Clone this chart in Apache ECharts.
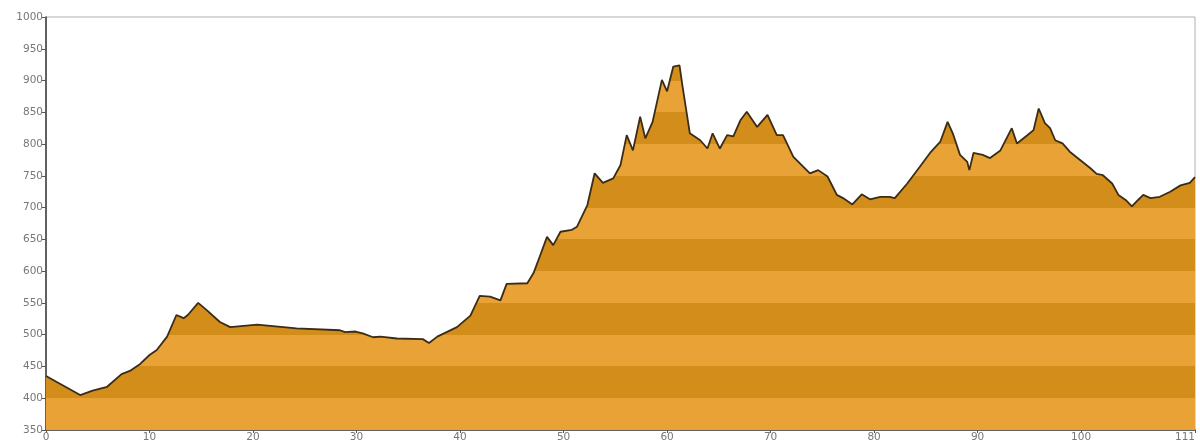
<!DOCTYPE html>
<html>
<head>
<meta charset="utf-8">
<script src="https://cdn.jsdelivr.net/npm/echarts@6/dist/echarts.min.js"></script>
<style>
html,body{margin:0;padding:0;background:#fff;}
#c{width:1200px;height:444px;}
</style>
</head>
<body>
<div id="c"></div>
<script>
// distance along route (km)
var distanceKm = [0, 3.3, 4.5, 5.9, 7.3, 8.1, 9.1, 10, 10.7, 11.7, 12.6, 13.3, 13.7, 14.7, 15.5, 16.8, 17.8, 20.4, 24.2, 28.4, 28.9, 29.9, 30.6, 31.6, 32.3, 33.9, 36.4, 37, 37.8, 39.7, 41, 41.9, 42.9, 43.9, 44.5, 46.5, 47.1, 47.7, 48.4, 49, 49.7, 50.8, 51.3, 52.3, 53, 53.8, 54.8, 55.5, 56.1, 56.7, 57.4, 57.9, 58.6, 59.5, 60, 60.6, 61.2, 61.5, 62.2, 63.2, 63.9, 64.4, 65.1, 65.8, 66.4, 67.1, 67.7, 68.7, 69.7, 70.6, 71.2, 72.2, 73, 73.8, 74.6, 75.5, 76.4, 77, 77.9, 78.8, 79.6, 80.6, 81.5, 82, 83.2, 84.4, 85.4, 86.4, 87.1, 87.6, 88.3, 89, 89.2, 89.6, 90.5, 91.2, 92.2, 93.3, 93.8, 94.8, 95.4, 95.9, 96.5, 97, 97.5, 98.2, 98.9, 99.9, 100.9, 101.5, 102.1, 103, 103.6, 104.3, 104.9, 105.5, 106, 106.7, 107.6, 108.6, 109.6, 110.5, 111];
// elevation (m)
var elevation = [435, 405, 412, 418, 438, 443, 454, 468, 476, 497, 531, 526, 531, 550, 539, 520, 512, 516, 510, 507, 504, 505, 502, 496, 497, 494, 493, 487, 497, 512, 530, 561, 560, 554, 580, 581, 597, 623, 654, 641, 662, 665, 670, 704, 754, 739, 746, 767, 814, 790, 843, 809, 835, 901, 883, 922, 924, 890, 817, 806, 793, 817, 793, 814, 812, 838, 851, 827, 846, 814, 814, 780, 767, 754, 759, 749, 720, 715, 705, 721, 713, 717, 717, 715, 738, 764, 786, 804, 835, 817, 783, 772, 759, 786, 783, 778, 790, 825, 801, 814, 822, 856, 833, 825, 806, 801, 788, 775, 762, 753, 751, 738, 720, 712, 702, 712, 720, 715, 717, 725, 735, 739, 748];
// axis tick labels
var xTickValues = [0, 10, 20, 30, 40, 50, 60, 70, 80, 90, 100, 111];
var yMin = 350, yMax = 1000, yStep = 50;

var lightBand = '#E9A236';
var darkBand = '#D38D1A';

var seriesData = distanceKm.map(function (d, i) { return [d, elevation[i]]; });

var pieces = [];
for (var v = yMin, k = 0; v < yMax; v += yStep, k++) {
  pieces.push({ gte: v, lt: v + yStep, color: (k % 2 === 0) ? lightBand : darkBand });
}

var chart = echarts.init(document.getElementById('c'), null, { renderer: 'canvas' });
chart.setOption({
  animation: false,
  backgroundColor: '#ffffff',
  grid: { left: 46, right: 5, top: 17, bottom: 14, show: true, borderColor: '#b0b0b0', borderWidth: 1, containLabel: false, outerBoundsMode: 'none' },
  visualMap: {
    show: false,
    type: 'piecewise',
    dimension: 1,
    seriesIndex: 0,
    pieces: pieces
  },
  xAxis: {
    type: 'value',
    min: 0,
    max: 111,
    axisLine: { show: true, onZero: false, lineStyle: { color: '#3a3a3a', width: 1.5 } },
    axisTick: { show: true, length: 3, customValues: xTickValues, lineStyle: { color: '#555' } },
    axisLabel: { customValues: xTickValues, color: '#777', fontSize: 10.5, fontFamily: 'DejaVu Sans', margin: 2, alignMaxLabel: 'right' },
    splitLine: { show: false }
  },
  yAxis: {
    type: 'value',
    min: yMin,
    max: yMax,
    interval: yStep,
    axisLine: { show: true, onZero: false, lineStyle: { color: '#3a3a3a', width: 1.5 } },
    axisTick: { show: true, length: 4, lineStyle: { color: '#555' } },
    axisLabel: { color: '#777', fontSize: 10.5, fontFamily: 'DejaVu Sans', margin: 3, formatter: function (v) { return String(v); } },
    splitLine: { show: false }
  },
  series: [{
    type: 'line',
    data: seriesData,
    showSymbol: false,
    symbol: 'none',
    smooth: false,
    lineStyle: { color: '#3a2c16', width: 1.8 },
    areaStyle: { opacity: 1, origin: 'start' },
    z: 2
  }]
});
</script>
</body>
</html>
